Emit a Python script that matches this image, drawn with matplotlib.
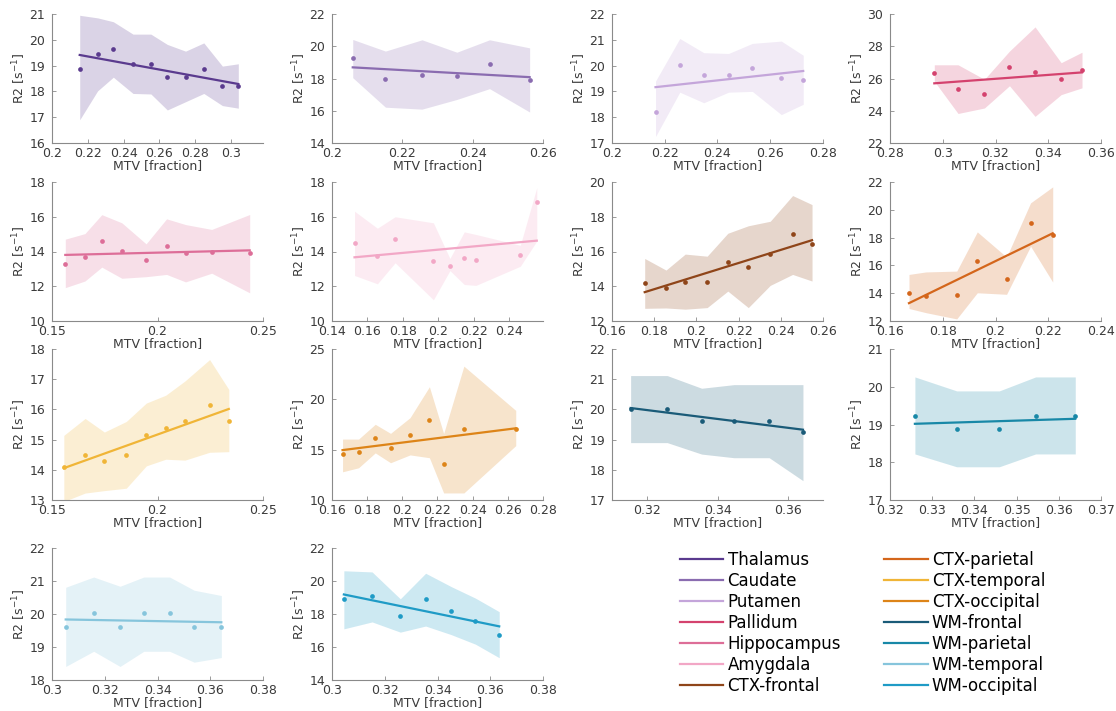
import numpy as np
import matplotlib.pyplot as plt

# Regions, one panel each
regions = ['Thalamus', 'Caudate', 'Putamen', 'Pallidum', 'Hippocampus', 'Amygdala',
           'CTX-frontal', 'CTX-parietal', 'CTX-temporal', 'CTX-occipital',
           'WM-frontal', 'WM-parietal', 'WM-temporal', 'WM-occipital']
colors = ['#5a3a8e', '#8a6cb0', '#c4a5da', '#d4426e', '#dd6e98', '#f2a7c6',
          '#8f4519', '#d4661b', '#f0b537', '#dd8418',
          '#1a5b78', '#1888a7', '#86c5dc', '#1f9bc6']

# MTV bin centres
mtv = [
    [0.2155, 0.2255, 0.2343, 0.2453, 0.2553, 0.2645, 0.2747, 0.2849, 0.2953, 0.3042],
    [0.2059, 0.2152, 0.2256, 0.2355, 0.2448, 0.2562],
    [0.2165, 0.2257, 0.2348, 0.2442, 0.2532, 0.2642, 0.2725],
    [0.2968, 0.3058, 0.3158, 0.3253, 0.3350, 0.3449, 0.3528],
    [0.1563, 0.1656, 0.1736, 0.1831, 0.1946, 0.2043, 0.2133, 0.2257, 0.2437],
    [0.1527, 0.1656, 0.1756, 0.1972, 0.2065, 0.2146, 0.2212, 0.2462, 0.2555],
    [0.1755, 0.1856, 0.1947, 0.2051, 0.2149, 0.2246, 0.2350, 0.2456, 0.2548],
    [0.1672, 0.1736, 0.1853, 0.1931, 0.2042, 0.2133, 0.2217],
    [0.1556, 0.1657, 0.1748, 0.1852, 0.1947, 0.2039, 0.2130, 0.2247, 0.2338],
    [0.1660, 0.1751, 0.1846, 0.1933, 0.2044, 0.2154, 0.2235, 0.2350, 0.2645],
    [0.3153, 0.3257, 0.3355, 0.3447, 0.3547, 0.3643],
    [0.3259, 0.3358, 0.3459, 0.3545, 0.3639],
    [0.3052, 0.3158, 0.3258, 0.3348, 0.3446, 0.3539, 0.3642],
    [0.3045, 0.3152, 0.3259, 0.3355, 0.3452, 0.3544, 0.3634],
]

# Median R2 per bin
r2 = [
    [18.88, 19.45, 19.63, 19.07, 19.07, 18.55, 18.55, 18.88, 18.2, 18.2],
    [19.25, 17.98, 18.22, 18.13, 18.9, 17.88],
    [18.2, 20.02, 19.62, 19.62, 19.92, 19.53, 19.43],
    [26.35, 25.33, 25.02, 26.69, 26.42, 25.98, 26.52],
    [13.3, 13.68, 14.62, 14.04, 13.5, 14.33, 13.92, 14.0, 13.9],
    [14.5, 13.72, 14.73, 13.43, 13.15, 13.61, 13.52, 13.78, 16.85],
    [14.16, 13.9, 14.27, 14.27, 15.38, 15.1, 15.86, 16.98, 16.46],
    [14.05, 13.8, 13.85, 16.3, 15.05, 19.08, 18.2],
    [14.08, 14.5, 14.29, 14.5, 15.15, 15.38, 15.63, 16.13, 15.63],
    [14.56, 14.76, 16.16, 15.19, 16.43, 17.91, 13.59, 17.01, 17.09],
    [20.01, 20.01, 19.61, 19.61, 19.61, 19.25],
    [19.23, 18.87, 18.87, 19.23, 19.23],
    [19.62, 20.02, 19.62, 20.02, 20.02, 19.62, 19.62],
    [18.9, 19.08, 17.88, 18.9, 18.2, 17.6, 16.75],
]

# Lower and upper edge of the spread band
r2_low = [
    [16.9, 18.02, 18.55, 17.92, 17.9, 17.28, 17.6, 17.92, 17.45, 17.35],
    [18.05, 16.22, 16.1, 16.7, 17.37, 15.92],
    [17.25, 18.97, 18.56, 18.97, 19.0, 18.1, 18.5],
    [25.83, 23.83, 24.17, 25.55, 23.65, 25.0, 25.42],
    [11.92, 12.3, 13.1, 12.46, 12.55, 12.68, 12.25, 12.75, 11.62],
    [12.62, 12.14, 13.35, 11.22, 12.9, 12.1, 12.05, 13.15, 14.6],
    [12.73, 12.75, 12.68, 12.77, 13.72, 12.77, 14.05, 14.68, 14.3],
    [12.9, 12.6, 12.15, 14.03, 13.92, 17.38, 14.8],
    [12.95, 13.23, 13.31, 13.39, 14.13, 14.35, 14.32, 14.58, 14.6],
    [12.8, 13.2, 14.68, 13.7, 14.48, 14.2, 10.7, 10.7, 15.4],
    [18.9, 18.9, 18.52, 18.4, 18.4, 17.64],
    [18.22, 17.88, 17.88, 18.22, 18.22],
    [18.41, 18.87, 18.41, 18.87, 18.87, 18.54, 18.68],
    [17.1, 17.52, 16.9, 17.27, 16.75, 16.17, 15.35],
]
r2_high = [
    [20.95, 20.85, 20.7, 20.22, 20.22, 19.82, 19.56, 19.88, 18.98, 19.07],
    [20.42, 19.7, 20.4, 19.63, 20.4, 19.9],
    [19.4, 21.05, 20.5, 20.47, 20.86, 20.95, 20.4],
    [26.85, 26.85, 25.95, 27.7, 29.2, 26.98, 27.63],
    [14.71, 15.03, 16.12, 15.65, 14.44, 15.88, 15.55, 15.27, 16.13],
    [16.32, 15.34, 16.0, 15.65, 13.6, 15.13, 14.98, 14.36, 17.68],
    [15.6, 14.93, 15.85, 15.73, 17.05, 17.48, 17.74, 19.22, 18.7],
    [15.35, 15.53, 15.59, 18.41, 16.6, 20.5, 21.65],
    [15.14, 15.7, 15.25, 15.6, 16.21, 16.47, 16.94, 17.65, 16.66],
    [16.05, 16.05, 17.52, 16.62, 18.18, 21.25, 16.6, 23.3, 18.9],
    [21.12, 21.12, 20.7, 20.82, 20.82, 20.82],
    [20.26, 19.89, 19.89, 20.26, 20.26],
    [20.81, 21.12, 20.84, 21.12, 21.12, 20.72, 20.56],
    [20.62, 20.55, 18.92, 20.47, 19.66, 18.96, 18.14],
]

# Axis ranges and ticks
xlims = [(0.2, 0.318), (0.2, 0.26), (0.2, 0.28), (0.28, 0.36),
         (0.15, 0.25), (0.14, 0.259), (0.16, 0.26), (0.16, 0.24),
         (0.15, 0.25), (0.16, 0.28), (0.31, 0.37), (0.32, 0.37),
         (0.3, 0.38), (0.3, 0.38)]
xticks = [[0.2, 0.22, 0.24, 0.26, 0.28, 0.3], [0.2, 0.22, 0.24, 0.26],
          [0.2, 0.22, 0.24, 0.26, 0.28], [0.28, 0.3, 0.32, 0.34, 0.36],
          [0.15, 0.2, 0.25], [0.14, 0.16, 0.18, 0.2, 0.22, 0.24],
          [0.16, 0.18, 0.2, 0.22, 0.24, 0.26], [0.16, 0.18, 0.2, 0.22, 0.24],
          [0.15, 0.2, 0.25], [0.16, 0.18, 0.2, 0.22, 0.24, 0.26, 0.28],
          [0.32, 0.34, 0.36], [0.32, 0.33, 0.34, 0.35, 0.36, 0.37],
          [0.3, 0.32, 0.34, 0.36, 0.38], [0.3, 0.32, 0.34, 0.36, 0.38]]
yticks = [[16, 17, 18, 19, 20, 21], [14, 16, 18, 20, 22], [17, 18, 19, 20, 21, 22],
          [22, 24, 26, 28, 30], [10, 12, 14, 16, 18], [10, 12, 14, 16, 18],
          [12, 14, 16, 18, 20], [12, 14, 16, 18, 20, 22], [13, 14, 15, 16, 17, 18],
          [10, 15, 20, 25], [17, 18, 19, 20, 21, 22], [17, 18, 19, 20, 21],
          [18, 19, 20, 21, 22], [14, 16, 18, 20, 22]]

W, H = 1116, 711
col_left = [52, 332, 612, 890]
ax_width = 211
row_span = [(14, 143), (182, 321), (349, 500), (548, 680)]

fig = plt.figure(figsize=(W / 100, H / 100), dpi=100)
txt = '#3a3a3a'
handles = []

for i, name in enumerate(regions):
    r, c = divmod(i, 4)
    top, bottom = row_span[r]
    ax = fig.add_axes([col_left[c] / W, 1 - bottom / H, ax_width / W, (bottom - top) / H])
    ax.patch.set_alpha(0)
    x = np.array(mtv[i])
    y = np.array(r2[i])
    col = colors[i]

    ax.fill_between(x, r2_low[i], r2_high[i], color=col, alpha=0.22, linewidth=0)
    ax.plot(x, y, 'o', color=col, markersize=3.4, markeredgewidth=0)
    slope, icpt = np.polyfit(x, y, 1)
    xs = np.array([x[0], x[-1]])
    line, = ax.plot(xs, slope * xs + icpt, color=col, linewidth=1.6, label=name)
    handles.append(line)

    ax.set_xlim(*xlims[i])
    ax.set_ylim(yticks[i][0], yticks[i][-1])
    ax.set_xticks(xticks[i])
    ax.set_yticks(yticks[i])
    ax.set_xticklabels(['%g' % t for t in xticks[i]])
    ax.set_yticklabels(['%g' % t for t in yticks[i]])
    for s in ['top', 'right']:
        ax.spines[s].set_visible(False)
    for s in ['left', 'bottom']:
        ax.spines[s].set_color('#8a8a8a')
        ax.spines[s].set_linewidth(0.8)
    ax.tick_params(direction='in', length=3, width=0.6, color='#8a8a8a',
                   labelsize=9, labelcolor=txt)
    ax.tick_params(axis='x', pad=3)
    ax.tick_params(axis='y', pad=5)
    ax.set_xlabel('MTV [fraction]', fontsize=9, color=txt, labelpad=-0.5)
    ax.set_ylabel('R2 [s$^{-1}$]', fontsize=9, color=txt, labelpad=1)

fig.legend(handles=handles, labels=regions, ncol=2, loc='upper left',
           bbox_to_anchor=(680 / W, 1 - 551 / H), frameon=False, fontsize=12,
           handlelength=2.6, handletextpad=0.25, labelspacing=0.18,
           columnspacing=2.6, borderaxespad=0, borderpad=0)

fig.savefig('out.png', dpi=100)
